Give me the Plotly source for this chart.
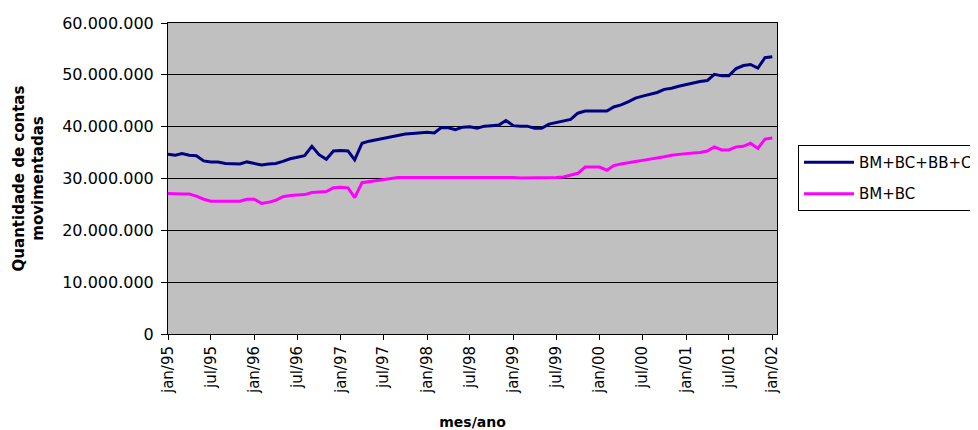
import plotly.graph_objects as go
import pandas as pd

months = pd.date_range("1995-01-01", "2002-01-01", freq="MS")

total_mi = [34.7, 34.5, 34.8, 34.5, 34.4, 33.4, 33.2, 33.2, 32.9, 32.8, 32.8, 33.2,
            32.9, 32.6, 32.8, 32.9, 33.3, 33.8, 34.1, 34.4, 36.2, 34.6, 33.7, 35.3,
            35.4, 35.3, 33.6, 36.8, 37.2, 37.5, 37.8, 38.0, 38.3, 38.6, 38.7, 38.8,
            38.9, 38.8, 39.8, 39.8, 39.4, 39.9, 40.0, 39.7, 40.1, 40.2, 40.3, 41.2,
            40.2, 40.1, 40.1, 39.7, 39.7, 40.5, 40.8, 41.1, 41.4, 42.6, 43.0, 43.0,
            43.0, 43.0, 43.8, 44.2, 44.8, 45.5, 45.9, 46.2, 46.6, 47.2, 47.4, 47.8,
            48.1, 48.5, 48.7, 48.9, 50.1, 49.8, 49.8, 51.2, 51.8, 52.0, 51.3, 53.3,
            53.5]

bmbc_mi = [27.1, 27.0, 27.0, 27.0, 26.6, 26.0, 25.6, 25.6, 25.6, 25.6, 25.6, 26.0,
           26.0, 25.2, 25.4, 25.8, 26.5, 26.7, 26.8, 26.9, 27.3, 27.4, 27.5, 28.2,
           28.3, 28.2, 26.3, 29.2, 29.4, 29.6, 29.9, 30.1, 30.2, 30.2, 30.2, 30.3,
           30.3, 30.3, 30.2, 30.3, 30.3, 30.2, 30.2, 30.2, 30.3, 30.2, 30.2, 30.2,
           30.2, 30.1, 30.1, 30.1, 30.1, 30.2, 30.2, 30.3, 30.6, 31.0, 32.2, 32.2,
           32.2, 31.6, 32.5, 32.8, 33.1, 33.3, 33.5, 33.7, 34.0, 34.2, 34.5, 34.7,
           34.8, 34.9, 35.0, 35.3, 36.1, 35.5, 35.5, 36.1, 36.2, 36.8, 35.8, 37.6,
           37.8]

total = [v * 1e6 for v in total_mi]
bmbc = [v * 1e6 for v in bmbc_mi]

tick_dates = pd.date_range("1995-01-01", "2002-01-01", freq="6MS")
tick_labels = ["jan/95", "jul/95", "jan/96", "jul/96", "jan/97", "jul/97", "jan/98",
               "jul/98", "jan/99", "jul/99", "jan/00", "jul/00", "jan/01", "jul/01",
               "jan/02"]
y_ticks = [0, 10e6, 20e6, 30e6, 40e6, 50e6, 60e6]

fig = go.Figure()
fig.add_trace(go.Scatter(x=months, y=total, mode="lines", name="BM+BC+BB+CEF",
                         legendgroup="a",
                         line=dict(color="#000080", width=3)))
fig.add_trace(go.Scatter(x=months, y=bmbc, mode="lines", name="BM+BC",
                         legendgroup="b",
                         line=dict(color="#FF00FF", width=3)))

font = "DejaVu Sans, Arial, sans-serif"
fig.update_layout(
    width=970, height=422,
    margin=dict(l=160, r=201, t=15, b=96, autoexpand=False),
    paper_bgcolor="white", plot_bgcolor="#C0C0C0",
    separators=",.",
    font=dict(family=font, size=14, color="black"),
    showlegend=True,
    legend=dict(x=1.0345, y=0.502, xanchor="left", yanchor="middle",
                bordercolor="black", borderwidth=1, bgcolor="white",
                font=dict(size=15), tracegroupgap=9, itemwidth=50),
    xaxis=dict(range=[pd.Timestamp("1995-01-01"), pd.Timestamp("2002-01-21")],
               tickvals=tick_dates, ticktext=tick_labels, tickangle=-90,
               ticks="outside", ticklen=5, tickcolor="black",
               showgrid=False, zeroline=False, automargin=False,
               showline=True, linecolor="black", linewidth=1, mirror=True,
               tickfont=dict(size=15),
               title=dict(text="<b>mes/ano</b>", font=dict(size=14), standoff=24)),
    yaxis=dict(range=[0, 60e6], tickvals=y_ticks, tickformat=",d",
               ticks="outside", ticklen=6, tickcolor="black",
               ticklabelstandoff=4, automargin=False,
               showgrid=True, gridcolor="black", gridwidth=1, zeroline=False,
               showline=True, linecolor="black", linewidth=1, mirror=True,
               tickfont=dict(size=16),
               title=dict(text="<b>Quantidade de contas<br>movimentadas</b>",
                          font=dict(size=15), standoff=14)),
)

fig.write_html("out.html")
